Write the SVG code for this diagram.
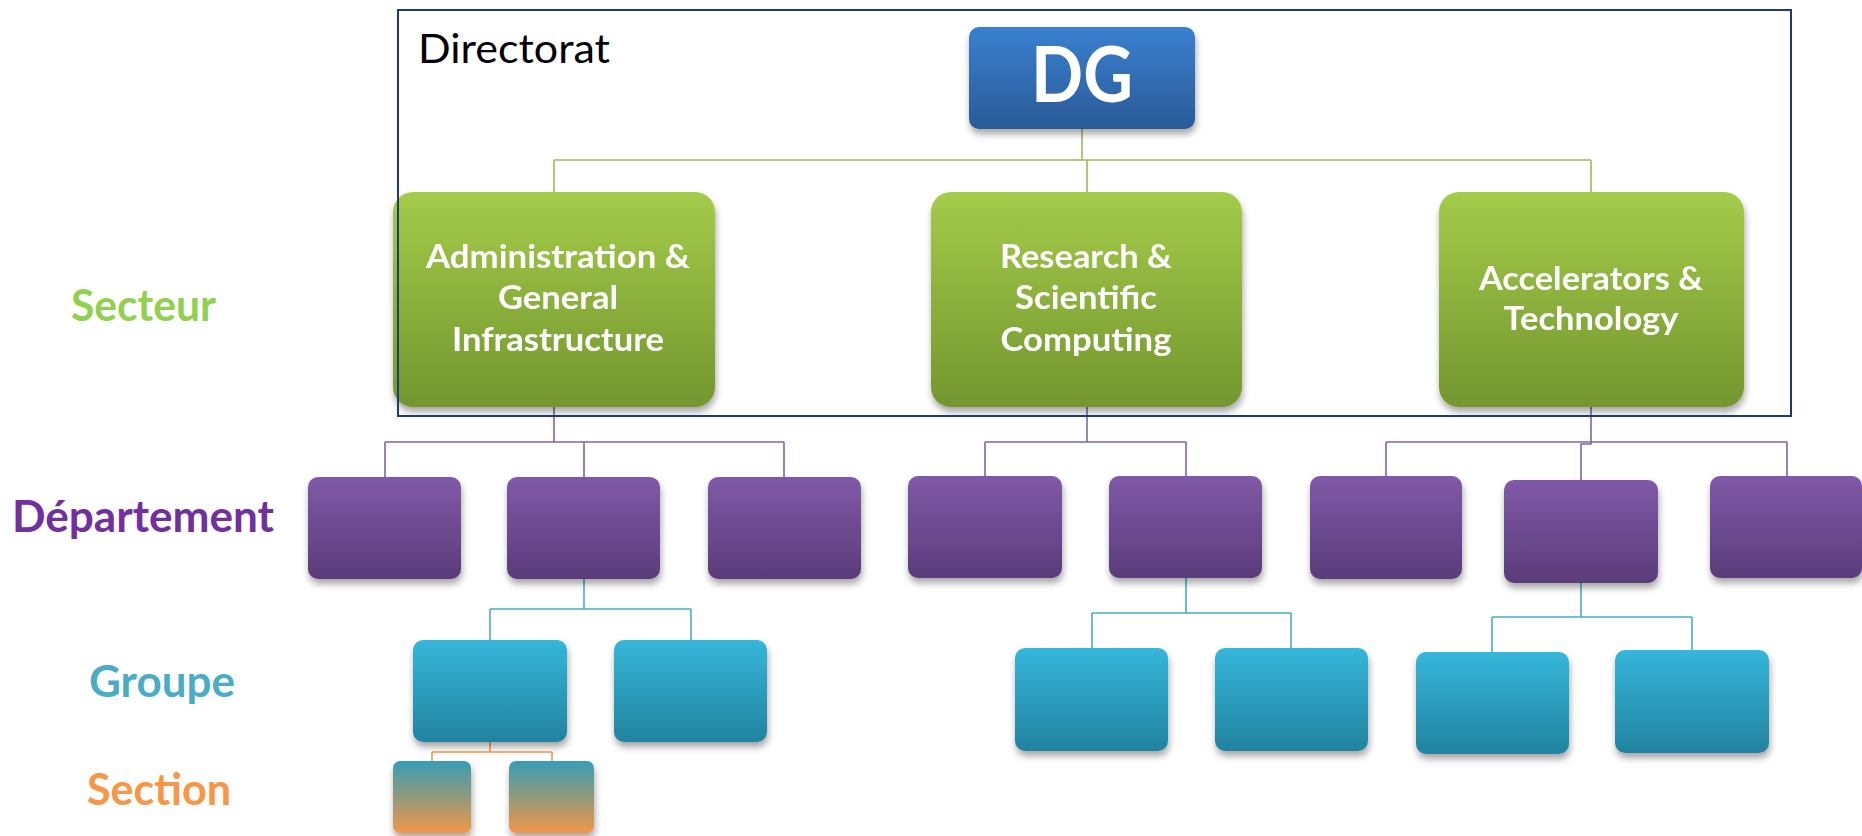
<svg xmlns="http://www.w3.org/2000/svg" width="1862" height="836" viewBox="0 0 1862 836">
<style>
.lbl{font-family:Lato,"Liberation Sans",sans-serif;font-weight:bold;font-size:44px}
.bt{font-family:Lato,"Liberation Sans",sans-serif;font-weight:bold;font-size:33px;fill:#fff;text-anchor:middle}
.c{fill:none;stroke-width:1.6}
.cg{stroke:#9bbb59}.cp{stroke:#8064a2}.ct{stroke:#4bacc6}.co{stroke:#f79646}
.n{filter:url(#sh)}
</style>
<defs>
<filter id="sh" x="-20%" y="-20%" width="140%" height="150%">
<feDropShadow dx="1" dy="5" stdDeviation="3.5" flood-color="#000" flood-opacity="0.35"/>
</filter>
<linearGradient id="gB" x1="0" y1="0" x2="0" y2="1"><stop offset="0" stop-color="#3a80d0"/><stop offset="1" stop-color="#2a5a97"/></linearGradient>
<linearGradient id="gG" x1="0" y1="0" x2="0" y2="1"><stop offset="0" stop-color="#a4cb4a"/><stop offset="1" stop-color="#74962f"/></linearGradient>
<linearGradient id="gP" x1="0" y1="0" x2="0" y2="1"><stop offset="0" stop-color="#8059a8"/><stop offset="1" stop-color="#5a3c7a"/></linearGradient>
<linearGradient id="gT" x1="0" y1="0" x2="0" y2="1"><stop offset="0" stop-color="#35b6da"/><stop offset="1" stop-color="#22839f"/></linearGradient>
<linearGradient id="gS" x1="0" y1="0" x2="0" y2="1"><stop offset="0" stop-color="#379db6"/><stop offset="0.5" stop-color="#919a7c"/><stop offset="1" stop-color="#f29649"/></linearGradient>
</defs>
<rect width="1862" height="836" fill="#fff"/>

<g id="labels">
<text class="lbl" x="71" y="321" fill="#92d050" textLength="145" lengthAdjust="spacingAndGlyphs">Secteur</text>
<text class="lbl" x="12" y="532" fill="#7030a0" textLength="262" lengthAdjust="spacingAndGlyphs">Département</text>
<text class="lbl" x="89" y="697" fill="#4bacc6" textLength="146" lengthAdjust="spacingAndGlyphs">Groupe</text>
<text class="lbl" x="87" y="805" fill="#f79646" textLength="144" lengthAdjust="spacingAndGlyphs">Section</text>
</g>

<g id="connectors">
<path class="c cg" d="M1082 129V160M554 160H1591M554 160V192M1087 160V192M1591 160V192"/>
<path class="c cp" d="M554 407V442M385 442H784M385 442V477M584 442V477M784 442V477"/>
<path class="c cp" d="M1087 407V442M985 442H1186M985 442V476M1186 442V476"/>
<path class="c cp" d="M1591 407V444H1581V480M1386 442H1787M1386 442V476M1787 442V476"/>
<path class="c ct" d="M584 579V609M490 609H691M490 609V640M691 609V640"/>
<path class="c ct" d="M1186 578V613M1092 613H1291M1092 613V648M1291 613V648"/>
<path class="c ct" d="M1581 583V617M1492 617H1692M1492 617V652M1692 617V650"/>
<path class="c co" d="M490 742V752M432 752H552M432 752V761M552 752V761"/>
</g>

<g id="dg" class="n"><rect x="969" y="27" width="226" height="102" rx="10" fill="url(#gB)"/>
<text x="1082" y="102" font-family="Lato,'Liberation Sans',sans-serif" font-weight="bold" font-size="76" fill="#fff" text-anchor="middle" textLength="102" lengthAdjust="spacingAndGlyphs">DG</text></g>

<g id="sec1" class="n"><rect x="393" y="192" width="322" height="215" rx="20" fill="url(#gG)"/>
<text class="bt" x="558" y="268" textLength="264" lengthAdjust="spacingAndGlyphs">Administration &amp;</text>
<text class="bt" x="558" y="309" textLength="120" lengthAdjust="spacingAndGlyphs">General</text>
<text class="bt" x="558" y="351" textLength="212" lengthAdjust="spacingAndGlyphs">Infrastructure</text></g>
<g id="sec2" class="n"><rect x="931" y="192" width="311" height="215" rx="20" fill="url(#gG)"/>
<text class="bt" x="1086" y="268" textLength="172" lengthAdjust="spacingAndGlyphs">Research &amp;</text>
<text class="bt" x="1086" y="309" textLength="142" lengthAdjust="spacingAndGlyphs">Scientific</text>
<text class="bt" x="1086" y="351" textLength="171" lengthAdjust="spacingAndGlyphs">Computing</text></g>
<g id="sec3" class="n"><rect x="1439" y="192" width="305" height="215" rx="20" fill="url(#gG)"/>
<text class="bt" x="1591" y="290" textLength="224" lengthAdjust="spacingAndGlyphs">Accelerators &amp;</text>
<text class="bt" x="1591" y="330" textLength="175" lengthAdjust="spacingAndGlyphs">Technology</text></g>

<g id="directorat">
<rect x="398" y="10" width="1393" height="406" fill="none" stroke="#1f3a78" stroke-width="2"/>
<text x="418" y="63" font-family="Lato,'Liberation Sans',sans-serif" font-size="41" fill="#000" textLength="192" lengthAdjust="spacingAndGlyphs">Directorat</text>
</g>

<g id="dep1" class="n"><rect x="308" y="477" width="153" height="102" rx="10" fill="url(#gP)"/></g>
<g id="dep2" class="n"><rect x="507" y="477" width="153" height="102" rx="10" fill="url(#gP)"/></g>
<g id="dep3" class="n"><rect x="708" y="477" width="153" height="102" rx="10" fill="url(#gP)"/></g>
<g id="dep4" class="n"><rect x="908" y="476" width="154" height="102" rx="10" fill="url(#gP)"/></g>
<g id="dep5" class="n"><rect x="1109" y="476" width="153" height="102" rx="10" fill="url(#gP)"/></g>
<g id="dep6" class="n"><rect x="1310" y="476" width="152" height="103" rx="10" fill="url(#gP)"/></g>
<g id="dep7" class="n"><rect x="1504" y="480" width="154" height="103" rx="10" fill="url(#gP)"/></g>
<g id="dep8" class="n"><rect x="1710" y="476" width="152" height="102" rx="10" fill="url(#gP)"/></g>

<g id="grp1" class="n"><rect x="413" y="640" width="154" height="102" rx="10" fill="url(#gT)"/></g>
<g id="grp2" class="n"><rect x="614" y="640" width="153" height="102" rx="10" fill="url(#gT)"/></g>
<g id="grp3" class="n"><rect x="1015" y="648" width="153" height="103" rx="10" fill="url(#gT)"/></g>
<g id="grp4" class="n"><rect x="1215" y="648" width="153" height="103" rx="10" fill="url(#gT)"/></g>
<g id="grp5" class="n"><rect x="1416" y="652" width="153" height="102" rx="10" fill="url(#gT)"/></g>
<g id="grp6" class="n"><rect x="1615" y="650" width="154" height="103" rx="10" fill="url(#gT)"/></g>

<g id="sect1" class="n"><rect x="393" y="761" width="78" height="72" rx="7" fill="url(#gS)"/></g>
<g id="sect2" class="n"><rect x="509" y="761" width="85" height="72" rx="7" fill="url(#gS)"/></g>
</svg>
